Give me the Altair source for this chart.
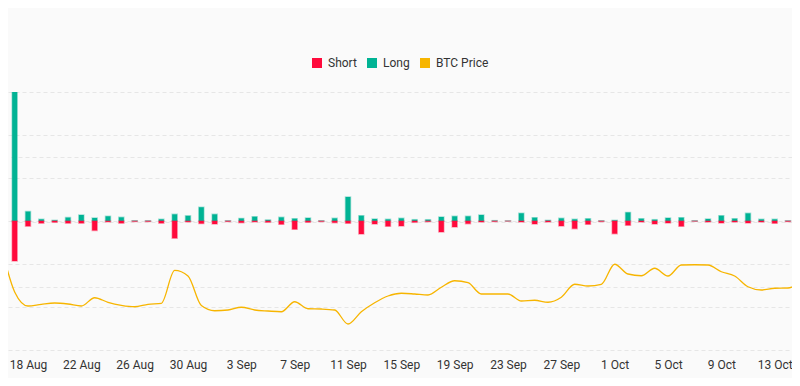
import altair as alt
import pandas as pd

# ---- data ----
dates = pd.date_range("2023-08-16", "2023-10-15", freq="D").strftime("%Y-%m-%d").tolist()

long_liq = [
    20, 300, 22, 4, 1.5, 8, 14, 7, 11, 8.5, 0.5, 0.5, 4, 15.5, 12, 32,
    15.5, 0.5, 6, 10, 2.5, 8.5, 5.4, 7, 0.5, 6.2, 55.8, 12.4, 4.7, 3.9, 6.2,
    3.1, 3, 9.3, 10.9, 10.9, 14, 0.8, 0.3, 17.8, 7.8, 1.5, 6.2, 3.9, 5.4, 0.5,
    1.5, 20, 5.4, 3.1, 7, 7.8, 0.5, 4.7, 12.4, 5.4, 17.8, 3.9, 3.9, 0.5, 0.5,
]
short_liq = [
    1.5, 93, 12, 5, 3, 5, 5, 22, 2, 5, 1.0, 1.2, 5, 40, 2, 6,
    7, 1.2, 4, 2, 3, 7.8, 19.4, 3, 1.2, 3.9, 5.4, 30.2, 7, 12.4, 11.6,
    3.1, 1.5, 25.6, 14, 6.2, 2.3, 1.2, 0.3, 2.3, 7, 2.3, 11.6, 17.8, 7.8, 1.2,
    29.5, 10, 2.3, 7, 4.7, 12.4, 0.5, 2.3, 4.7, 2.3, 4.7, 2.3, 5.4, 1.2, 6.2,
]
btc_price = [
    29240, 26765, 25995, 26090, 26160, 26105, 25995, 26450, 26200, 26035, 25955, 26090, 26145, 27950, 27645, 26020,
    25735, 25775, 25925, 25775, 25720, 25680, 26230, 25845, 25830, 25775, 25005, 25680, 26175, 26545, 26695,
    26655, 26600, 27025, 27385, 27275, 26655, 26655, 26655, 26270, 26310, 26200, 26475, 27190, 27095, 27190,
    28290, 27755, 27660, 28070, 27645, 28250, 28265, 28250, 27880, 27645, 27055, 26875, 26970, 26985, 27315,
]
series_names = ["Short", "Long", "BTC Price"]
tick_dates = [(8, 18), (8, 22), (8, 26), (8, 30), (9, 3), (9, 7), (9, 11), (9, 15),
              (9, 19), (9, 23), (9, 27), (10, 1), (10, 5), (10, 9), (10, 13)]

RED, GREEN, YELLOW = "#FF0A3C", "#00B394", "#F7B500"
FONT = "Roboto"

n = len(dates)
bars_df = pd.DataFrame({
    "date": dates + dates,
    "type": ["Long"] * n + ["Short"] * n,
    "value": long_liq + [-v for v in short_liq],
})
price_df = pd.DataFrame({"date": dates, "price": btc_price})

x_scale = alt.Scale(
    type="utc", padding=0, nice=False,
    domain=[alt.DateTime(year=2023, month=8, date=16, hours=12, utc=True),
            alt.DateTime(year=2023, month=10, date=14, hours=7, minutes=12, utc=True)],
)
x_axis = alt.Axis(
    values=[alt.DateTime(year=2023, month=m, date=d, utc=True) for m, d in tick_dates],
    format="%-d %b", labelOverlap=False, grid=False, domain=False, ticks=False,
    labelPadding=9, title=None, labelFont=FONT, labelFontSize=12, labelColor="#333333",
)
color_scale = alt.Scale(domain=series_names, range=[RED, GREEN, YELLOW])

bars = alt.Chart(bars_df).mark_bar(size=5, clip=True, strokeWidth=1.5, strokeOpacity=0.35).encode(
    x=alt.X("date:T", scale=x_scale, axis=x_axis),
    y=alt.Y("value:Q", stack=None,
            scale=alt.Scale(domain=[-300, 300], nice=False),
            axis=alt.Axis(values=[-300, -200, -100, 0, 100, 200, 300], grid=True,
                          gridDash=[4, 3], gridColor="#e6e6e6", labels=False,
                          ticks=False, domain=False, title=None)),
    color=alt.Color("type:N", scale=color_scale,
                    legend=alt.Legend(orient="none", legendX=303, legendY=-35,
                                      direction="horizontal", title=None,
                                      symbolType="square", symbolSize=100,
                                      symbolStrokeWidth=0, labelFont=FONT,
                                      labelFontSize=12, labelColor="#333333",
                                      labelOffset=5, columnPadding=9, padding=0)),
    stroke=alt.Stroke("type:N", scale=color_scale, legend=None),
)

line = alt.Chart(price_df).mark_line(interpolate="monotone", color=YELLOW,
                                     strokeWidth=1.3, clip=True).encode(
    x=alt.X("date:T", scale=x_scale, axis=x_axis),
    y=alt.Y("price:Q",
            scale=alt.Scale(domain=[23575, 37765], nice=False, zero=False),
            axis=alt.Axis(values=[23410, 27020, 30630, 34170], grid=True,
                          gridDash=[4, 3], gridColor="#e6e6e6", labels=False,
                          ticks=False, domain=False, title=None, orient="right")),
)

chart = alt.layer(bars, line).resolve_scale(y="independent").properties(
    width=784, height=258,
    padding={"top": 84, "left": 0, "right": 0, "bottom": 28},
    autosize=alt.AutoSizeParams(type="none"),
    background="#fafafa",
).configure_view(stroke=None)

chart.save("out.html", embed_options={"renderer": "svg", "actions": False})
